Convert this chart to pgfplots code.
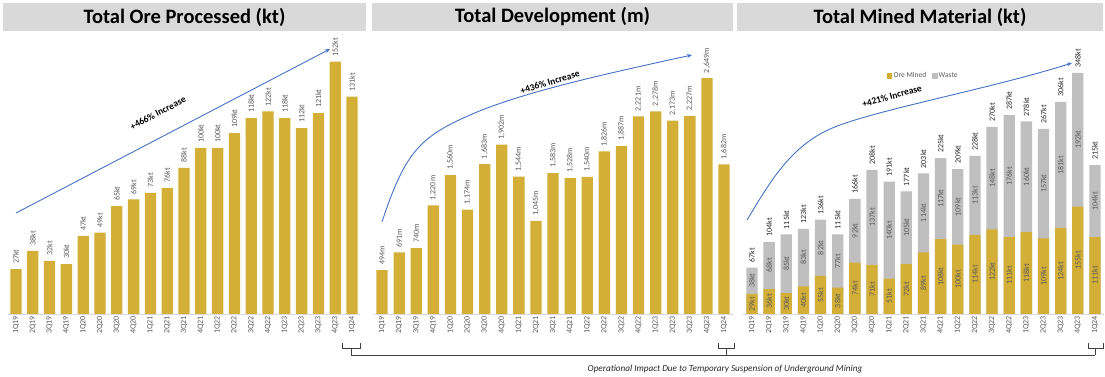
\documentclass[border=0pt]{standalone}
\usepackage{fontspec}
\setmainfont{Carlito}
\usepackage{pgfplots}
\pgfplotsset{compat=1.18}
\usepackage{pgfplotstable}
\usetikzlibrary{arrows.meta}

\definecolor{gold}{HTML}{D4AF37}
\definecolor{waste}{HTML}{BFBFBF}
\definecolor{band}{HTML}{D9D9D9}
\definecolor{lbl}{HTML}{595959}
\definecolor{arr}{HTML}{4472C4}
\definecolor{brk}{HTML}{404040}

\pgfplotstableread{
x v
0 27
1 38
2 32
3 30
4 47
5 49
6 65
7 69
8 73
9 76
10 88
11 100
12 100
13 109
14 118
15 122
16 118
17 112
18 121
19 152
20 131
}\oreTab

\pgfplotstableread{
x v
0 494
1 691
2 740
3 1220
4 1560
5 1174
6 1683
7 1902
8 1544
9 1045
10 1583
11 1528
12 1540
13 1826
14 1887
15 2221
16 2278
17 2173
18 2227
19 2649
20 1682
}\devTab

\pgfplotstableread{
x ore waste total
0 29 38 67
1 36 68 104
2 30 85 115
3 40 83 123
4 55 82 136
5 38 77 115
6 74 92 166
7 71 137 208
8 51 140 191
9 72 105 177
10 89 114 203
11 108 117 225
12 100 109 209
13 114 113 228
14 122 148 270
15 111 176 287
16 118 160 278
17 109 157 267
18 124 181 306
19 155 192 348
20 111 104 215
}\minedTab

\pgfplotsset{
  panel/.style={
    anchor=south west,
    axis y line=none,
    axis x line*=bottom,
    x axis line style={-, draw=band, line width=0.9pt},
    xtick={0,...,20},
    xticklabels={1Q19,2Q19,3Q19,4Q19,1Q20,2Q20,3Q20,4Q20,1Q21,2Q21,3Q21,4Q21,1Q22,2Q22,3Q22,4Q22,1Q23,2Q23,3Q23,4Q23,1Q24},
    xtick style={draw=none},
    major tick length=0pt,
    xticklabel style={rotate=90, anchor=east, inner sep=2pt, font=\fontsize{8}{9}\selectfont, text=lbl},
    clip=false,
    xmin=-0.5, xmax=20.5, ymin=0,
    /pgf/number format/assume math mode=true,
  },
  toplbl/.style={nodes near coords style={rotate=90, anchor=west, inner xsep=5pt, inner ysep=0pt, font=\fontsize{8}{9}\selectfont, text=#1}},
  midlbl/.style={nodes near coords style={rotate=90, anchor=center, inner sep=0pt, font=\fontsize{8}{9}\selectfont, text=lbl}},
}

\begin{document}
\begin{tikzpicture}
\useasboundingbox (0pt,0pt) rectangle (1105pt,377pt);

% Panel 1
\begin{axis}[panel, at={(7.6pt,63pt)}, x=16.8pt, y=1.66pt, ymax=165]
\addplot[ybar, bar width=11.3pt, fill=gold, draw=none,
  nodes near coords={\pgfmathprintnumber{\pgfplotspointmeta}kt}, toplbl=lbl]
  table[x=x,y=v]{\oreTab};
\end{axis}

% Panel 2
\begin{axis}[panel, at={(373.5pt,63pt)}, x=17.1pt, y=0.089pt, ymax=3000]
\addplot[ybar, bar width=11.3pt, fill=gold, draw=none,
  nodes near coords={\pgfmathprintnumber[fixed,precision=0,1000 sep={,}]{\pgfplotspointmeta}m}, toplbl=lbl]
  table[x=x,y=v]{\devTab};
\end{axis}

% Panel 3
\begin{axis}[panel, at={(743.4pt,63pt)}, x=17.15pt, y=0.693pt, ymax=400,
  legend style={at={(0.5,0.86)}, anchor=center, draw=none, fill=none,
    font=\fontsize{7.5}{8}\selectfont, text=lbl, legend columns=2,
    /tikz/every even column/.append style={column sep=4pt}},
  ]
\addplot[ybar, bar width=11.3pt, fill=waste, draw=none, forget plot] table[x=x,y=total]{\minedTab};
\addplot[ybar, bar width=11.3pt, fill=gold, draw=none, forget plot] table[x=x,y=ore]{\minedTab};
\addplot[draw=none, mark=none, forget plot, point meta=explicit,
  nodes near coords={\pgfmathprintnumber{\pgfplotspointmeta}kt}, midlbl]
  table[x=x, y expr={\thisrow{ore}/2}, meta=ore]{\minedTab};
\addplot[draw=none, mark=none, forget plot, point meta=explicit,
  nodes near coords={\pgfmathprintnumber{\pgfplotspointmeta}kt}, midlbl]
  table[x=x, y expr={(\thisrow{ore}+\thisrow{total})/2}, meta=waste]{\minedTab};
\addplot[draw=none, mark=none, forget plot, point meta=explicit,
  nodes near coords={\pgfmathprintnumber{\pgfplotspointmeta}kt}, toplbl=black!85]
  table[x=x, y=total, meta=total]{\minedTab};
\addlegendimage{only marks, mark=square*, mark options={fill=gold, draw=gold}, mark size=2.2pt}
\addlegendentry{Ore Mined}
\addlegendimage{only marks, mark=square*, mark options={fill=waste, draw=waste}, mark size=2.2pt}
\addlegendentry{Waste}
\end{axis}

\begin{scope}[x=1pt, y=1pt]
% title bands
\fill[band] (3,346) rectangle (366,374);
\node[font=\bfseries\fontsize{20.5}{24}\selectfont] at (184.5,360) {Total Ore Processed (kt)};
\fill[band] (372,346) rectangle (733,374);
\node[font=\bfseries\fontsize{20.5}{24}\selectfont] at (552.5,360) {Total Development (m)};
\fill[band] (737,346) rectangle (1103,374);
\node[font=\bfseries\fontsize{20.5}{24}\selectfont] at (920,360) {Total Mined Material (kt)};

% arrows
\draw[arr, line width=0.9pt, -{Stealth[length=5pt,width=4pt]}] (16,164) -- (330,328);
\node[rotate=27.6, font=\bfseries\fontsize{9.5}{11}\selectfont] at (158,264) {+466\% Increase};

\draw[arr, line width=0.9pt, -{Stealth[length=5pt,width=4pt]}] (382,155) .. controls (405,225) and (420,240) .. (470,262) .. controls (520,284) and (600,302) .. (692,322);
\node[rotate=17, font=\bfseries\fontsize{9.5}{11}\selectfont] at (550,295) {+436\% Increase};

\draw[arr, line width=0.9pt, -{Stealth[length=5pt,width=4pt]}] (747,157) .. controls (770,195) and (790,230) .. (830,248) .. controls (870,266) and (990,288) .. (1072,314);
\node[rotate=15.5, font=\bfseries\fontsize{9.5}{11}\selectfont] at (892,281) {+421\% Increase};

% brackets
\draw[brk, line width=0.6pt] (342,34) -- (342,29) -- (360,29) -- (360,34);
\draw[brk, line width=0.6pt] (351,29) -- (351,22);
\draw[brk, line width=0.6pt] (718,34) -- (718,29) -- (734,29) -- (734,34);
\draw[brk, line width=0.6pt] (726,29) -- (726,22);
\draw[brk, line width=0.6pt] (1088,34) -- (1088,29) -- (1103,29) -- (1103,34);
\draw[brk, line width=0.6pt] (1095,29) -- (1095,22);
\draw[brk, line width=0.6pt] (351,22) -- (1095,22);
\node[font=\itshape\fontsize{9.2}{10}\selectfont, text=black!85] at (725,8) {Operational Impact Due to Temporary Suspension of Underground Mining};
\end{scope}
\end{tikzpicture}
\end{document}
